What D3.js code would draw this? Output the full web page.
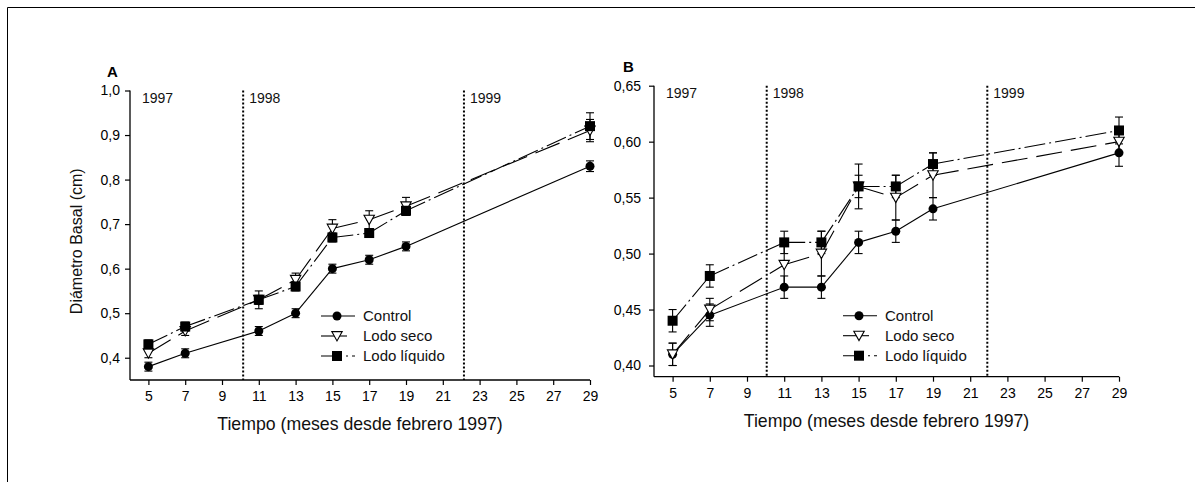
<!DOCTYPE html>
<html>
<head>
<meta charset="utf-8">
<script src="https://cdn.jsdelivr.net/npm/d3@7"></script>
<style>
  html, body { margin: 0; padding: 0; background: #fff; }
  svg { display: block; font-family: "Liberation Sans", Arial, sans-serif; }
</style>
</head>
<body>
<svg id="chart" width="1195" height="482"></svg>
<script>
// ---------- data ----------
const months = [5, 7, 11, 13, 15, 17, 19, 29];
const xTickValues = [5, 7, 9, 11, 13, 15, 17, 19, 21, 23, 25, 27, 29];
const seriesNames = ["Control", "Lodo seco", "Lodo líquido"];

// Panel A
const aControl = [0.38, 0.41, 0.46, 0.50, 0.60, 0.62, 0.65, 0.83];
const aControlErr = [0.01, 0.01, 0.01, 0.01, 0.01, 0.01, 0.01, 0.012];
const aSeco = [0.41, 0.46, 0.53, 0.575, 0.69, 0.71, 0.74, 0.91];
const aSecoErr = [0.01, 0.01, 0.01, 0.015, 0.02, 0.02, 0.02, 0.025];
const aLiquido = [0.43, 0.47, 0.53, 0.56, 0.67, 0.68, 0.73, 0.92];
const aLiquidoErr = [0.01, 0.01, 0.02, 0.01, 0.01, 0.01, 0.01, 0.03];
const aYTicks = [0.4, 0.5, 0.6, 0.7, 0.8, 0.9, 1.0];
const aYears = [1997, 1998, 1999];
const aYearLines = [10.15, 22.15];

// Panel B
const bControl = [0.41, 0.445, 0.47, 0.47, 0.51, 0.52, 0.54, 0.59];
const bControlErr = [0.01, 0.01, 0.01, 0.01, 0.01, 0.01, 0.01, 0.012];
const bSeco = [0.41, 0.45, 0.49, 0.50, 0.56, 0.55, 0.57, 0.60];
const bSecoErr = [0.01, 0.01, 0.02, 0.02, 0.01, 0.02, 0.02, 0.01];
const bLiquido = [0.44, 0.48, 0.51, 0.51, 0.56, 0.56, 0.58, 0.61];
const bLiquidoErr = [0.01, 0.01, 0.01, 0.01, 0.02, 0.01, 0.01, 0.012];
const bYTicks = [0.40, 0.45, 0.50, 0.55, 0.60, 0.65];
const bYears = [1997, 1998, 1999];
const bYearLines = [10.06, 21.92];

const xTitle = "Tiempo (meses desde febrero 1997)";
const yTitle = "Diámetro Basal (cm)";

// ---------- drawing ----------
const svg = d3.select("#chart");

// outer frame (left and top edges visible)
svg.append("path").attr("d", "M7.5,482 L7.5,7.5 L1195,7.5")
  .attr("fill", "none").attr("stroke", "#000").attr("stroke-width", 1);

const styles = [
  { dash: null, marker: "circle" },
  { dash: "26,9", marker: "triangle" },
  { dash: "21,4,2,4", marker: "square" }
];

function drawMarker(g, type, cx, cy) {
  if (type === "circle") {
    g.append("circle").attr("cx", cx).attr("cy", cy).attr("r", 4.5).attr("fill", "#000");
  } else if (type === "square") {
    g.append("rect").attr("x", cx - 5).attr("y", cy - 5).attr("width", 10).attr("height", 10).attr("fill", "#000");
  } else {
    const s = 5.2;
    g.append("path").attr("d", `M${cx - s},${cy - s * 0.85} L${cx + s},${cy - s * 0.85} L${cx},${cy + s * 0.95} Z`)
      .attr("fill", "#fff").attr("stroke", "#000").attr("stroke-width", 1.1);
  }
}

function panel(cfg) {
  const g = svg.append("g");
  const x = d3.scaleLinear().domain([4, 29]).range([cfg.x0, cfg.x1]);
  const y = d3.scaleLinear().domain(cfg.yDomain).range([cfg.y0, cfg.y1]);

  // year separators
  cfg.yearLines.forEach(v => {
    g.append("line").attr("x1", x(v)).attr("x2", x(v)).attr("y1", cfg.y1).attr("y2", cfg.y0)
      .attr("stroke", "#000").attr("stroke-width", 2).attr("stroke-dasharray", "2,2");
  });
  const yearPos = [4, ...cfg.yearLines];
  cfg.years.forEach((yr, i) => {
    g.append("text").attr("x", x(yearPos[i]) + (i === 0 ? 12 : 6)).attr("y", cfg.y1 + 12)
      .attr("font-size", 14).attr("fill", "#111").text(yr);
  });

  // axes
  const xAxis = d3.axisBottom(x).tickValues(xTickValues).tickSize(5).tickPadding(6).tickFormat(d3.format("d"));
  const xg = g.append("g").attr("transform", `translate(0,${cfg.y0})`).call(xAxis);
  xg.select(".domain").attr("d", `M${cfg.x0},0H${cfg.x1}`).attr("stroke-width", 1.3);
  xg.selectAll(".tick line").attr("stroke-width", 1.2);
  xg.selectAll("text").attr("font-size", 14).attr("font-family", "Liberation Sans, Arial, sans-serif").attr("fill", "#000");

  const yAxis = d3.axisLeft(y).tickValues(cfg.yTicks).tickSize(5).tickPadding(cfg.yPad)
    .tickFormat(d => d3.format(cfg.yFmt)(d).replace(".", ","));
  const yg = g.append("g").attr("transform", `translate(${cfg.x0},0)`).call(yAxis);
  yg.select(".domain").attr("d", `M0,${cfg.y0}V${cfg.y1}`).attr("stroke-width", 1.3);
  yg.selectAll(".tick line").attr("stroke-width", 1.2);
  yg.selectAll("text").attr("font-size", 14).attr("font-family", "Liberation Sans, Arial, sans-serif").attr("fill", "#000");

  // titles
  g.append("text").attr("x", (cfg.x0 + cfg.x1) / 2).attr("y", cfg.y0 + 50)
    .attr("text-anchor", "middle").attr("font-size", 17.7).attr("fill", "#111").text(xTitle);
  if (cfg.yTitle) {
    g.append("text").attr("transform", `translate(${cfg.yTitleX},${(cfg.y0 + cfg.y1) / 2 + 6}) rotate(-90)`)
      .attr("text-anchor", "middle").attr("font-size", 16).attr("fill", "#111").text(yTitle);
  }
  g.append("text").attr("x", cfg.labelX).attr("y", cfg.y1 - 14)
    .attr("font-size", 15).attr("font-weight", "bold").text(cfg.label);

  // series
  const line = d3.line().x(d => x(d[0])).y(d => y(d[1]));
  cfg.series.forEach((s, si) => {
    const st = styles[si];
    const pts = months.map((m, i) => [m, s.values[i]]);
    for (let i = 0; i < pts.length - 1; i++) {
      g.append("path").attr("d", line([pts[i], pts[i + 1]]))
        .attr("fill", "none").attr("stroke", "#000").attr("stroke-width", 1.1)
        .attr("stroke-dasharray", st.dash);
    }
  });
  cfg.series.forEach((s, si) => {
    months.forEach((m, i) => {
      const cx = x(m), v = s.values[i], e = s.err[i];
      const yt = y(v + e), yb = y(v - e);
      g.append("line").attr("x1", cx).attr("x2", cx).attr("y1", yt).attr("y2", yb)
        .attr("stroke", "#000").attr("stroke-width", 1.1);
      [yt, yb].forEach(yy => g.append("line").attr("x1", cx - 4).attr("x2", cx + 4)
        .attr("y1", yy).attr("y2", yy).attr("stroke", "#000").attr("stroke-width", 1.1));
    });
  });
  cfg.series.forEach((s, si) => {
    months.forEach((m, i) => drawMarker(g, styles[si].marker, x(m), y(s.values[i])));
  });

  // legend
  seriesNames.forEach((name, i) => {
    const ly = cfg.legY + i * 20;
    g.append("line").attr("x1", cfg.legX).attr("x2", cfg.legX + 34).attr("y1", ly).attr("y2", ly)
      .attr("stroke", "#000").attr("stroke-width", 1.1).attr("stroke-dasharray", styles[i].dash);
    drawMarker(g, styles[i].marker, cfg.legX + 16, ly);
    g.append("text").attr("x", cfg.legX + 42).attr("y", ly + 5).attr("font-size", 15)
      .attr("fill", "#111").text(name);
  });
}

panel({
  x0: 130, x1: 590, y0: 380, y1: 90.5, yDomain: [0.35, 1.0], yTicks: aYTicks, yFmt: ".1f", yPad: 5,
  years: aYears, yearLines: aYearLines, label: "A", labelX: 107,
  yTitle: true, yTitleX: 82,
  series: [
    { values: aControl, err: aControlErr },
    { values: aSeco, err: aSecoErr },
    { values: aLiquido, err: aLiquidoErr }
  ],
  legX: 321, legY: 316
});

panel({
  x0: 654, x1: 1119, y0: 376.7, y1: 85.7, yDomain: [0.39, 0.65], yTicks: bYTicks, yFmt: ".2f", yPad: 8,
  years: bYears, yearLines: bYearLines, label: "B", labelX: 623,
  yTitle: false,
  series: [
    { values: bControl, err: bControlErr },
    { values: bSeco, err: bSecoErr },
    { values: bLiquido, err: bLiquidoErr }
  ],
  legX: 843, legY: 315.7
});
</script>
</body>
</html>
